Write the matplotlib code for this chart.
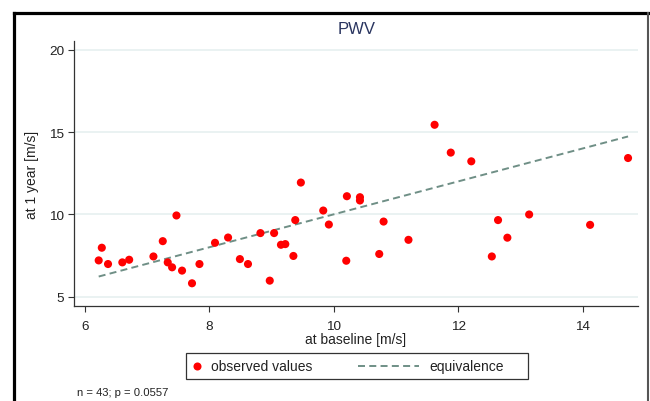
import matplotlib
matplotlib.use("Agg")
import matplotlib.pyplot as plt
from matplotlib.lines import Line2D
from matplotlib.patches import Rectangle

plt.rcParams['font.family'] = ['Liberation Sans', 'DejaVu Sans']

# Data
baseline = [6.22, 6.27, 6.37, 6.60, 6.71, 7.10, 7.25, 7.33, 7.40, 7.47,
            7.56, 7.72, 7.84, 8.09, 8.30, 8.49, 8.62, 8.82, 8.97, 9.04,
            9.15, 9.22, 9.35, 9.38, 9.47, 9.83, 9.92, 10.20, 10.21, 10.42,
            10.42, 10.80, 10.73, 11.20, 11.62, 11.88, 12.21, 12.54, 12.64, 12.79,
            13.14, 14.12, 14.73]
one_year = [7.20, 7.97, 6.98, 7.08, 7.24, 7.44, 8.37, 7.08, 6.78, 9.93,
            6.58, 5.81, 6.98, 8.27, 8.59, 7.28, 6.98, 8.86, 5.97, 8.86,
            8.15, 8.19, 7.47, 9.65, 11.93, 10.23, 9.38, 7.18, 11.10, 11.04,
            10.84, 9.56, 7.59, 8.45, 15.44, 13.75, 13.22, 7.44, 9.65, 8.58,
            9.99, 9.36, 13.42]
x_ticks = [6, 8, 10, 12, 14]
y_ticks = [5, 10, 15, 20]
title = "PWV"
x_label = "at baseline [m/s]"
y_label = "at 1 year [m/s]"
note = "n = 43; p = 0.0557"
legend_labels = ["observed values", "equivalence"]

W, H = 650, 402
fig = plt.figure(figsize=(W / 100, H / 100), dpi=100)

def fx(px):
    return px / W

def fy(py):
    return 1 - py / H

# outer frame
fig.add_artist(Line2D([fx(14.5), fx(14.5)], [fy(13.5), fy(410)], color='black', lw=2.3))
fig.add_artist(Line2D([fx(13.5), fx(648)], [fy(13.5), fy(13.5)], color='black', lw=2.3))
fig.add_artist(Line2D([fx(648), fx(648)], [fy(13.5), fy(410)], color='#555555', lw=1.5))

ax_l, ax_r, ax_t, ax_b = 74, 638, 42, 307
ax = fig.add_axes([fx(ax_l), fy(ax_b), (ax_r - ax_l) / W, (ax_b - ax_t) / H])
ax.set_xlim(5.823, 14.89)
ax.set_ylim(4.43, 20.53)

ax.set_xticks(x_ticks)
ax.set_yticks(y_ticks)
ax.tick_params(axis='both', direction='out', length=4, width=0.8, color='#333333',
               labelsize=9.7, labelcolor='#222222')
ax.tick_params(axis='x', pad=6)
ax.tick_params(axis='y', pad=3)
for s in ['top', 'right']:
    ax.spines[s].set_visible(False)
for s in ['left', 'bottom']:
    ax.spines[s].set_color('#333333')
    ax.spines[s].set_linewidth(0.9)

ax.yaxis.grid(True, color='#e6f0f0', lw=1.2)
ax.set_axisbelow(True)

# equivalence line y = x from min to max baseline
xmin, xmax = min(baseline), max(baseline)
eq_color = '#6f8f86'
ax.plot([xmin, xmax], [xmin, xmax], color=eq_color, lw=1.4,
        linestyle=(0, (3.6, 2.2)), zorder=2)
ax.scatter(baseline, one_year, s=34, color='#ff0000', edgecolors='none', zorder=3)

# texts
fig.text(fx(357), fy(30), title, ha='center', va='center', fontsize=12, color='#2a3560')
fig.text(fx(356), fy(340), x_label, ha='center', va='center', fontsize=10, color='#222222')
fig.text(fx(32), fy(174.5), y_label, ha='center', va='center', rotation=90,
         fontsize=10, color='#222222')
fig.text(fx(77), fy(393), note, ha='left', va='center', fontsize=8.1, color='#222222')

# legend (manual box)
fig.add_artist(Rectangle((fx(186), fy(380)), (528 - 186) / W, (380 - 354) / H,
                         transform=fig.transFigure, fill=False, edgecolor='#333333', lw=0.9))
fig.add_artist(Line2D([fx(197)], [fy(367)], marker='o', markersize=5.8,
                      markerfacecolor='#ff0000', markeredgecolor='none', linestyle='none'))
fig.text(fx(211), fy(367), legend_labels[0], ha='left', va='center', fontsize=10, color='#222222')
fig.add_artist(Line2D([fx(358), fx(419)], [fy(367), fy(367)], color=eq_color, lw=1.4,
                      linestyle=(0, (3.6, 2.2))))
fig.text(fx(429), fy(367), legend_labels[1], ha='left', va='center', fontsize=10, color='#222222')

fig.savefig('out.png', dpi=100)
